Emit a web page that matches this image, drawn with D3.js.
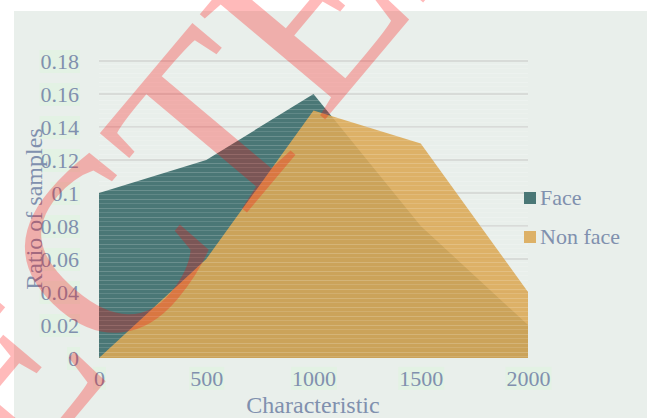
<!DOCTYPE html>
<html>
<head>
<meta charset="utf-8">
<script src="https://cdn.jsdelivr.net/npm/d3@7"></script>
<style>
  html, body { margin: 0; padding: 0; background: #ffffff; }
  svg { display: block; }
</style>
</head>
<body>
<svg id="chart" width="652" height="418"></svg>
<script>
// Chart data
const characteristic = [0, 500, 1000, 1500, 2000];
const faceRatio = [0.10, 0.12, 0.16, 0.08, 0.02];
const nonFaceRatio = [0.00, 0.06, 0.15, 0.13, 0.04];
const seriesNames = ["Face", "Non face"];
const yTicks = [0, 0.02, 0.04, 0.06, 0.08, 0.1, 0.12, 0.14, 0.16, 0.18];
const xTicks = [0, 500, 1000, 1500, 2000];
const stampText = "REJECTED";

const W = 652, H = 418;
const svg = d3.select("#chart");
const FONT = "'Liberation Serif', 'Times New Roman', serif";
const TEXT_COLOR = "#8090ae";
const colors = { "Face": "#4a7776", "Non face": "#dba856" };

// outer panel
svg.append("rect").attr("x", 0).attr("y", 0).attr("width", W).attr("height", H).attr("fill", "#ffffff");
svg.append("rect").attr("x", 14).attr("y", 11).attr("width", 633).attr("height", H - 11).attr("fill", "#e9efeb");

const x = d3.scaleLinear().domain([0, 2000]).range([99, 528]);
const y = d3.scaleLinear().domain([0, 0.18]).range([358, 61]);

// horizontal stripe texture for the plot region
const defs = svg.append("defs");
const pat = defs.append("pattern").attr("id", "stripes")
  .attr("patternUnits", "userSpaceOnUse").attr("width", 8).attr("height", 9);
pat.append("rect").attr("x", 0).attr("y", 1).attr("width", 8).attr("height", 1).attr("fill", "#ffffff").attr("fill-opacity", 0.18);
pat.append("rect").attr("x", 0).attr("y", 5).attr("width", 8).attr("height", 1).attr("fill", "#ffffff").attr("fill-opacity", 0.12);

// gridlines
svg.append("g").selectAll("line").data(yTicks.filter(d => d > 0)).join("line")
  .attr("x1", x(0)).attr("x2", x(2000))
  .attr("y1", d => y(d)).attr("y2", d => y(d))
  .attr("stroke", "#d2d4d2").attr("stroke-width", 1.5);

// areas
const rows = characteristic.map((c, i) => ({ c, face: faceRatio[i], nonFace: nonFaceRatio[i] }));
const areaFor = key => d3.area().x(d => x(d.c)).y0(y(0)).y1(d => y(d[key]));

svg.append("path").datum(rows).attr("d", areaFor("face")).attr("fill", colors["Face"]);
svg.append("path").datum(rows).attr("d", areaFor("nonFace")).attr("fill", colors["Non face"]).attr("fill-opacity", 0.89);

// texture over the plot
svg.append("rect").attr("x", x(0)).attr("y", 56).attr("width", x(2000) - x(0)).attr("height", y(0) - 56)
  .attr("fill", "url(#stripes)");

// y axis labels with highlight boxes
const yAxis = d3.axisLeft(y).tickValues(yTicks).tickFormat(d => String(+d.toFixed(2))).tickSize(0).tickPadding(20);
const gy = svg.append("g").attr("transform", `translate(${x(0)},0)`).call(yAxis);
gy.select(".domain").remove();
gy.selectAll("text").attr("font-family", FONT).attr("font-size", 22).attr("fill", TEXT_COLOR).attr("dy", "0.34em");

const xAxis = d3.axisBottom(x).tickValues(xTicks).tickFormat(d3.format("d")).tickSize(0).tickPadding(20);
const gx = svg.append("g").attr("transform", `translate(0,${y(0)})`).call(xAxis);
gx.select(".domain").remove();
gx.selectAll("text").attr("font-family", FONT).attr("font-size", 22).attr("fill", TEXT_COLOR).attr("dy", "0.36em");

// light boxes behind tick labels
[gy, gx].forEach(g => {
  g.selectAll(".tick").each(function () {
    const t = d3.select(this).select("text");
    const b = t.node().getBBox();
    d3.select(this).insert("rect", "text")
      .attr("x", b.x - 1).attr("y", b.y + 1).attr("width", b.width + 2).attr("height", b.height - 2)
      .attr("fill", "#e3f2e4");
  });
});

// axis titles
svg.append("text").attr("x", 313).attr("y", 413).attr("text-anchor", "middle")
  .attr("font-family", FONT).attr("font-size", 24).attr("fill", TEXT_COLOR).text("Characteristic");
svg.append("text").attr("transform", "translate(42,209) rotate(-90)").attr("text-anchor", "middle")
  .attr("font-family", FONT).attr("font-size", 24).attr("fill", TEXT_COLOR).text("Ratio of samples");

// legend
const legend = svg.append("g").selectAll("g").data(seriesNames).join("g")
  .attr("transform", (d, i) => `translate(524,${192 + i * 39})`);
legend.append("rect").attr("width", 12).attr("height", 12).attr("fill", d => colors[d])
  .attr("fill-opacity", d => d === "Non face" ? 0.89 : 1);
legend.append("text").attr("x", 16).attr("y", 13).attr("font-family", FONT).attr("font-size", 22)
  .attr("fill", TEXT_COLOR).text(d => d);

// diagonal stamp across the figure
svg.append("text").attr("transform", "translate(-251,806) rotate(-50)")
  .attr("font-family", FONT).attr("font-size", 250).attr("fill", "#ff0000").attr("fill-opacity", 0.27)
  .text(stampText);
</script>
</body>
</html>
